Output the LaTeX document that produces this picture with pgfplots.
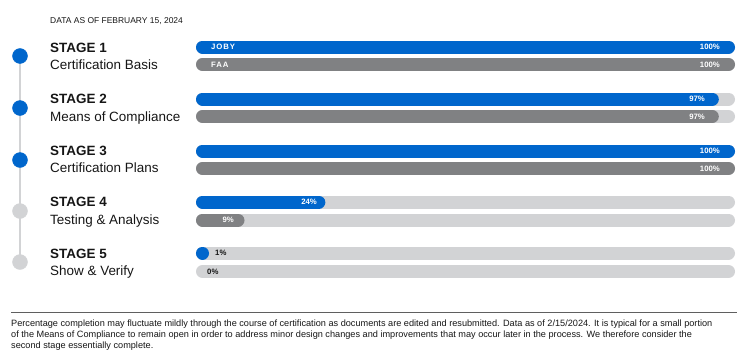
\documentclass[border=0pt]{standalone}
\usepackage{fontspec}
\setmainfont{Liberation Sans}
\usepackage{pgfplots}
\pgfplotsset{compat=1.18}
\usepackage{pgfplotstable}

\definecolor{joby}{RGB}{0,102,204}
\definecolor{faa}{RGB}{128,129,131}
\definecolor{track}{RGB}{210,211,213}
\definecolor{ink}{RGB}{22,22,22}
\definecolor{rule}{RGB}{95,95,95}

% y = row position (px from top), v = percent complete
\pgfplotstableread{
y v
47 100
99 97
151 100
202 24
253 1
}\jobytab
\pgfplotstableread{
y v
64.5 100
116.5 97
168.5 100
220 9
271.5 0
}\faatab

\pgfplotsset{pill/.style={draw=none, mark=none,
  error bars/.cd, x dir=minus, x explicit, error mark=none,
  error bar style={draw=#1, line width=13bp, line cap=round}, /pgfplots/.cd}}

\newcommand{\stagefont}{\bfseries\fontsize{13.5}{15}\selectfont}
\newcommand{\subfont}{\fontsize{13.5}{15}\selectfont}
\newcommand{\pctfont}{\bfseries\fontsize{7.8}{9}\selectfont}
\newcommand{\notefont}{\fontsize{9.2}{10}\selectfont}

\begin{document}
\begin{tikzpicture}
\begin{axis}[scale only axis, width=750bp, height=354bp,
  xmin=0, xmax=750, ymin=0, ymax=354, y dir=reverse,
  hide axis, clip=false]
% timeline
\addplot[draw=track, line width=2bp, mark=none] coordinates {(20,56) (20,262)};
\addplot[only marks, mark=*, mark size=7.5bp, color=joby] coordinates {(20,56) (20,108) (20,160)};
\addplot[only marks, mark=*, mark size=7.5bp, color=track] coordinates {(20,211) (20,262)};
% tracks
\addplot[pill=track] table[x expr=728.5, y=y, x error expr=526] {\jobytab};
\addplot[pill=track] table[x expr=728.5, y=y, x error expr=526] {\faatab};
% fills
\addplot[pill=joby] table[x expr={max(196+5.39*\thisrow{v}-6.5,202.5)}, y=y,
  x error expr={max(5.39*\thisrow{v}-13,0.01)}] {\jobytab};
\addplot[skip coords between index={4}{5}, pill=faa] table[x expr={max(196+5.39*\thisrow{v}-6.5,202.5)}, y=y,
  x error expr={max(5.39*\thisrow{v}-13,0.01)}] {\faatab};

% header
\node[anchor=base west, inner sep=0, text=ink, font=\fontsize{8.5}{9}\selectfont] at (axis cs:50,24) {DATA AS OF FEBRUARY 15, 2024};
% stage labels
\node[anchor=base west, inner sep=0, text=ink, font=\stagefont] at (axis cs:50,52) {STAGE 1};
\node[anchor=base west, inner sep=0, text=ink, font=\subfont] at (axis cs:50,69.5) {Certification Basis};
\node[anchor=base west, inner sep=0, text=ink, font=\stagefont] at (axis cs:50,103.6) {STAGE 2};
\node[anchor=base west, inner sep=0, text=ink, font=\subfont] at (axis cs:50,121.1) {Means of Compliance};
\node[anchor=base west, inner sep=0, text=ink, font=\stagefont] at (axis cs:50,155.2) {STAGE 3};
\node[anchor=base west, inner sep=0, text=ink, font=\subfont] at (axis cs:50,172.7) {Certification Plans};
\node[anchor=base west, inner sep=0, text=ink, font=\stagefont] at (axis cs:50,206.8) {STAGE 4};
\node[anchor=base west, inner sep=0, text=ink, font=\subfont] at (axis cs:50,224.3) {Testing \& Analysis};
\node[anchor=base west, inner sep=0, text=ink, font=\stagefont] at (axis cs:50,258.4) {STAGE 5};
\node[anchor=base west, inner sep=0, text=ink, font=\subfont] at (axis cs:50,275.9) {Show \& Verify};
% bar names
\node[anchor=base west, inner sep=0, text=white, font=\pctfont\addfontfeatures{LetterSpace=12}] at (axis cs:211,49.8) {JOBY};
\node[anchor=base west, inner sep=0, text=white, font=\pctfont\addfontfeatures{LetterSpace=12}] at (axis cs:211,67.3) {FAA};
% values
\node[anchor=base east, inner sep=0, text=white, font=\pctfont] at (axis cs:720,49.8) {100\%};
\node[anchor=base east, inner sep=0, text=white, font=\pctfont] at (axis cs:720,67.3) {100\%};
\node[anchor=base east, inner sep=0, text=white, font=\pctfont] at (axis cs:705,101.8) {97\%};
\node[anchor=base east, inner sep=0, text=white, font=\pctfont] at (axis cs:705,119.3) {97\%};
\node[anchor=base east, inner sep=0, text=white, font=\pctfont] at (axis cs:720,153.8) {100\%};
\node[anchor=base east, inner sep=0, text=white, font=\pctfont] at (axis cs:720,171.3) {100\%};
\node[anchor=base east, inner sep=0, text=white, font=\pctfont] at (axis cs:317,204.8) {24\%};
\node[anchor=base east, inner sep=0, text=white, font=\pctfont] at (axis cs:234,222.8) {9\%};
\node[anchor=base west, inner sep=0, text=ink, font=\pctfont] at (axis cs:215,255.8) {1\%};
\node[anchor=base west, inner sep=0, text=ink, font=\pctfont] at (axis cs:207,274.3) {0\%};
% footnote
\draw[rule, line width=1bp] (axis cs:11,312) -- (axis cs:737,312);
\node[anchor=base west, inner sep=0, text=ink, font=\notefont] at (axis cs:11,326) {Percentage completion may fluctuate mildly through the course of certification as documents are edited and resubmitted. Data as of 2/15/2024. It is typical for a small portion};
\node[anchor=base west, inner sep=0, text=ink, font=\notefont] at (axis cs:11,337) {of the Means of Compliance to remain open in order to address minor design changes and improvements that may occur later in the process. We therefore consider the};
\node[anchor=base west, inner sep=0, text=ink, font=\notefont] at (axis cs:11,348) {second stage essentially complete.};
\end{axis}
\pgfresetboundingbox
\path (current axis.south west) rectangle (current axis.north east);
\end{tikzpicture}
\end{document}
